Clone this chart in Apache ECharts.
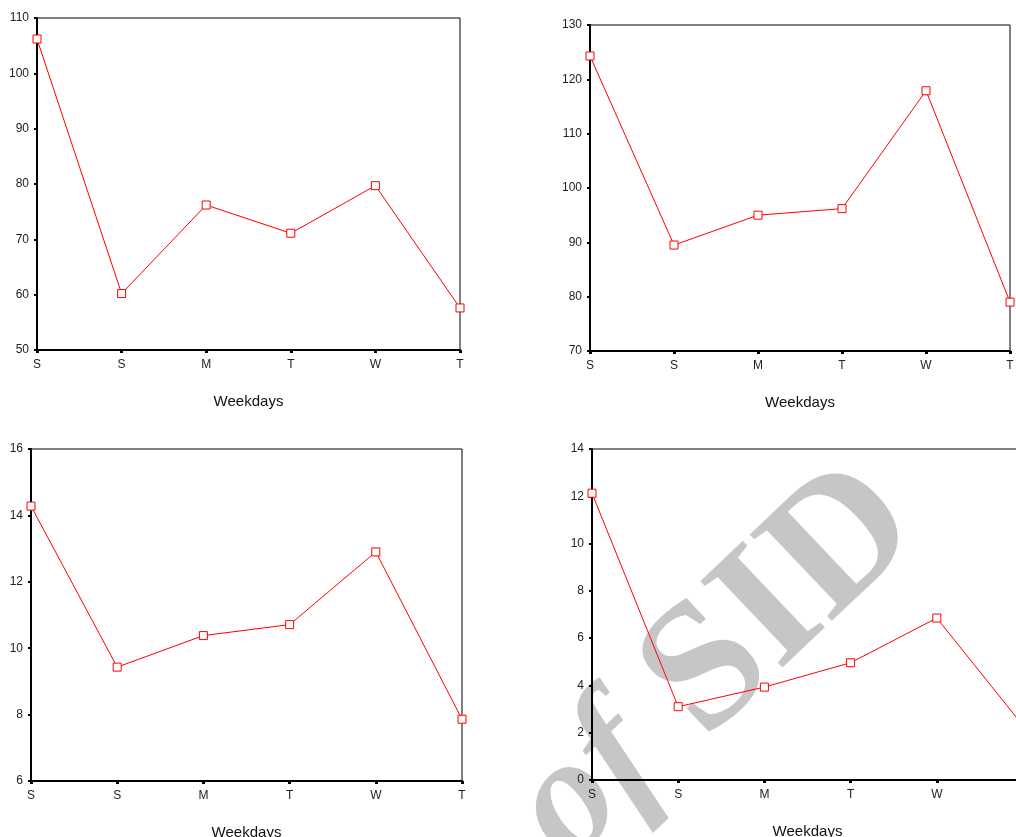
<!DOCTYPE html>
<html>
<head>
<meta charset="utf-8">
<script src="https://cdn.jsdelivr.net/npm/echarts@6/dist/echarts.min.js"></script>
<style>
  html, body { margin: 0; padding: 0; background: #fff; overflow: hidden; }
  #chart { width: 1016px; height: 837px; }
</style>
</head>
<body>
<div id="chart"></div>
<script>
// weekday labels, same for all four panels
const days = ['S', 'S', 'M', 'T', 'W', 'T'];

// values
const panel1 = [106.2, 60.2, 76.2, 71.1, 79.7, 57.6];
const panel2 = [124.3, 89.5, 95.0, 96.2, 117.9, 79.0];
const panel3 = [14.28, 9.43, 10.38, 10.71, 12.90, 7.86];
const panel4 = [12.13, 3.1, 3.93, 4.96, 6.85, 2.3];

// y axis ranges: [min, max, interval]
const range1 = [50, 110, 10];
const range2 = [70, 130, 10];
const range3 = [6, 16, 2];
const range4 = [0, 14, 2];

const chart = echarts.init(document.getElementById('chart'));

const grids = [
    { left: 37, top: 18, width: 423, height: 332 },
    { left: 590, top: 25, width: 420, height: 326 },
    { left: 31, top: 449, width: 431, height: 332 },
    { left: 592, top: 449, width: 431, height: 331 }  // runs past the right edge
];
const ranges = [range1, range2, range3, range4];
const datas = [panel1, panel2, panel3, panel4];

const font = 'Liberation Sans';

let option = {
    backgroundColor: '#fff',
    animation: false,
    graphic: [
        {
            // grey watermark behind the charts
            type: 'text',
            x: 716,
            y: 666,
            rotation: 0.76,
            z: -10,
            silent: true,
            style: {
                text: '{i|of} SID',
                rich: {
                    i: { fontStyle: 'italic', fontWeight: 'bold', fontFamily: 'Liberation Serif', fontSize: 165, fill: '#c6c6c6' }
                },
                fontFamily: 'Liberation Serif',
                fontWeight: 'bold',
                fontSize: 182,
                fill: '#c6c6c6',
                align: 'center',
                verticalAlign: 'middle'
            }
        }
    ],
    grid: grids.map(g => Object.assign({
        show: true,
        borderColor: '#000',
        borderWidth: 1,
        backgroundColor: 'transparent',
        outerBoundsMode: 'none'
    }, g)),
    xAxis: grids.map((g, i) => ({
        type: 'category',
        gridIndex: i,
        data: days,
        boundaryGap: false,
        name: 'Weekdays',
        nameLocation: 'middle',
        nameGap: 44,
        nameTextStyle: { fontFamily: font, fontSize: 15, color: '#111' },
        axisLine: { lineStyle: { color: '#000', width: 2 } },
        axisTick: { length: 3, lineStyle: { color: '#000', width: 3 } },
        axisLabel: { fontFamily: font, fontSize: 12, color: '#222', margin: 9, interval: 0 },
        splitLine: { show: false }
    })),
    yAxis: ranges.map((r, i) => ({
        type: 'value',
        gridIndex: i,
        min: r[0],
        max: r[1],
        interval: r[2],
        axisLine: { show: true, lineStyle: { color: '#000', width: 2 } },
        axisTick: { show: true, length: 3, lineStyle: { color: '#000', width: 2 } },
        axisLabel: { fontFamily: font, fontSize: 12, color: '#222', margin: 8 },
        splitLine: { show: false }
    })),
    series: datas.map((d, i) => ({
        type: 'line',
        xAxisIndex: i,
        yAxisIndex: i,
        data: d,
        symbol: 'rect',
        symbolSize: 8,
        lineStyle: { color: '#ff0000', width: 1 },
        itemStyle: { color: '#fff', borderColor: '#ff0000', borderWidth: 1 },
        z: 5
    }))
};

chart.setOption(option);
</script>
</body>
</html>
